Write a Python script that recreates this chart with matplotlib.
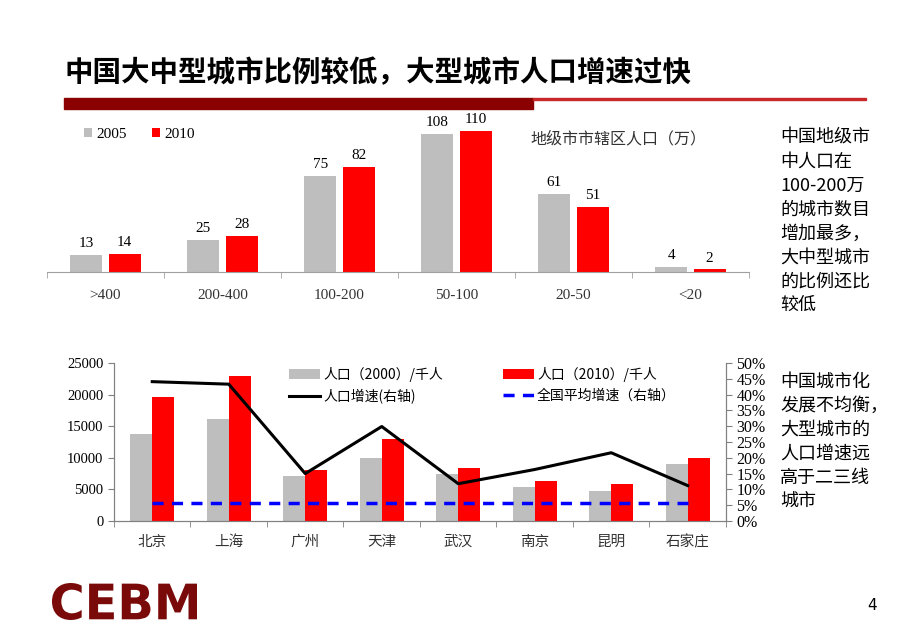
import matplotlib
matplotlib.use("Agg")
import matplotlib.pyplot as plt
from matplotlib.patches import Rectangle, PathPatch
from matplotlib.textpath import TextPath
from matplotlib.font_manager import FontProperties
from matplotlib.transforms import Affine2D, IdentityTransform
import numpy as np

plt.rcParams['font.family'] = ['Liberation Serif', 'Noto Sans CJK SC', 'DejaVu Sans']

# ---------------- data ----------------
size_cats = [">400", "200-400", "100-200", "50-100", "20-50", "<20"]
cities_2005 = [13, 25, 75, 108, 61, 4]
cities_2010 = [14, 28, 82, 110, 51, 2]

city_names = ["北京", "上海", "广州", "天津", "武汉", "南京", "昆明", "石家庄"]
pop_2000 = [13700, 16100, 7100, 10000, 7500, 5450, 4800, 9000]
pop_2010 = [19600, 23000, 8100, 13000, 8400, 6300, 5900, 10000]
growth = [0.441, 0.433, 0.150, 0.299, 0.118, 0.163, 0.216, 0.112]
national_avg = 0.058

title = "中国大中型城市比例较低，大型城市人口增速过快"
note1 = "中国地级市\n中人口在\n100-200万\n的城市数目\n增加最多，\n大中型城市\n的比例还比\n较低"
note2 = "中国城市化\n发展不均衡，\n大型城市的\n人口增速远\n高于二三线\n城市"

W, H = 920, 637
fig = plt.figure(figsize=(W / 100, H / 100), dpi=100)


def rect(x0, y0, x1, y1):
    return [x0 / W, (H - y1) / H, (x1 - x0) / W, (y1 - y0) / H]


GRAY = "#BEBEBE"
RED = "#FF0000"
CJK = ['Noto Sans CJK SC', 'DejaVu Sans']

# ---------------- title & header bar ----------------
fig.text(65 / W, 1 - 73 / H, title, fontsize=20.5, fontweight='bold',
         family=CJK, va='center', ha='left', color='black')
fig.patches.append(Rectangle((64 / W, 1 - 109 / H), (533 - 64) / W, 11 / H,
                             transform=fig.transFigure, color='#8B0000', zorder=2))
fig.patches.append(Rectangle((533 / W, 1 - 100 / H), (866 - 533) / W, 2 / H,
                             transform=fig.transFigure, color='#C8282A', zorder=2))

# ---------------- top chart ----------------
ax1 = fig.add_axes(rect(47, 120, 749, 272))
x = np.arange(len(size_cats))
bw = 0.274
off = 0.163
b1 = ax1.bar(x - off, cities_2005, bw, color=GRAY, label="2005")
b2 = ax1.bar(x + off, cities_2010, bw, color=RED, label="2010")
for xs, vals in ((x - off, cities_2005), (x + off, cities_2010)):
    for xi, v in zip(xs, vals):
        ax1.annotate(str(v), (xi, v), xytext=(0, 3.5), textcoords='offset points',
                     ha='center', va='bottom', fontsize=11)
ax1.set_xlim(-0.5, len(size_cats) - 0.5)
ax1.set_ylim(0, 118.6)
for s in ('top', 'left', 'right'):
    ax1.spines[s].set_visible(False)
ax1.spines['bottom'].set_color('#A0A0A0')
ax1.set_yticks([])
ax1.set_xticks(x)
ax1.set_xticklabels(size_cats, fontsize=11, color='#333333')
ax1.tick_params(axis='x', length=0, pad=12)
ax1.set_xticks(np.arange(-0.5, len(size_cats)), minor=True)
ax1.tick_params(axis='x', which='minor', length=4, color='#A0A0A0')
ax1.legend(handles=[b1, b2], loc='upper left', bbox_to_anchor=(70 / W, 1 - 114 / H),
           bbox_transform=fig.transFigure, ncol=2, frameon=False, fontsize=11,
           handlelength=0.55, handleheight=0.55, handletextpad=0.3, columnspacing=1.6)
fig.text(530 / W, 1 - 139 / H, "地级市市辖区人口（万）", fontsize=11.5, family=CJK,
         color='#333333', va='center', ha='left')

# ---------------- bottom chart ----------------
ax2 = fig.add_axes(rect(114, 363, 726, 521))
xc = np.arange(len(city_names))
bw2 = 0.287
off2 = 0.144
g1 = ax2.bar(xc - off2, pop_2000, bw2, color=GRAY, label="人口（2000）/千人")
g2 = ax2.bar(xc + off2, pop_2010, bw2, color=RED, label="人口（2010）/千人")
ax2.set_xlim(-0.5, len(city_names) - 0.5)
ax2.set_ylim(0, 25000)
ax2.set_yticks(np.arange(0, 25001, 5000))
ax2.tick_params(axis='y', labelsize=10.5, length=4, color='#808080', direction='out')
ax2.set_xticks(xc)
ax2.set_xticklabels(city_names, fontsize=10.5, family=CJK, color='#333333')
ax2.tick_params(axis='x', length=0, pad=10)
ax2.set_xticks(np.arange(-0.5, len(city_names)), minor=True)
ax2.tick_params(axis='x', which='minor', length=4, color='#808080')
ax2.spines['top'].set_visible(False)
for s in ('left', 'bottom', 'right'):
    ax2.spines[s].set_color('#808080')

ax3 = ax2.twinx()
l1, = ax3.plot(xc, growth, color='black', lw=2.2, label="人口增速(右轴)")
l2, = ax3.plot(xc, [national_avg] * len(xc), color='#0000FF', lw=2.5,
               dashes=(3.2, 2.4), label="全国平均增速（右轴）")
ax3.set_ylim(0, 0.5)
ax3.set_yticks(np.arange(0, 0.501, 0.05))
ax3.set_yticklabels([f"{int(round(v * 100))}%" for v in np.arange(0, 0.501, 0.05)])
ax3.tick_params(axis='y', labelsize=11.5, length=4, color='#808080')
ax3.spines['top'].set_visible(False)
for s in ('left', 'bottom', 'right'):
    ax3.spines[s].set_color('#808080')

ax3.legend(handles=[g1, l1, g2, l2], loc='upper left', ncol=2,
           bbox_to_anchor=(277 / W, 1 - 354 / H), bbox_transform=fig.transFigure,
           frameon=False, prop={'family': CJK, 'size': 10}, handlelength=2.2,
           handleheight=0.75, handletextpad=0.25, columnspacing=4.3, labelspacing=0.55)

# ---------------- side notes ----------------
fig.text(780 / W, 1 - 129 / H, note1, fontsize=13, family=CJK, va='top', ha='left',
         linespacing=1.42)
fig.text(780 / W, 1 - 373 / H, note2, fontsize=13, family=CJK, va='top', ha='left',
         linespacing=1.42)

# ---------------- footer ----------------
tp = TextPath((0, 0), "CEBM", size=1, prop=FontProperties(family='DejaVu Sans', weight='bold'))
ext = tp.get_extents()
lx0, lx1, ly0, ly1 = 52, 197, 583, 620
sx = (lx1 - lx0) / ext.width
sy = (ly1 - ly0) / ext.height
tr = Affine2D().translate(-ext.x0, -ext.y0).scale(sx, sy).translate(lx0, H - ly1)
logo = PathPatch(tr.transform_path(tp), facecolor='#7A0A0A', edgecolor='none',
                 transform=IdentityTransform())
fig.patches.append(logo)
fig.text(872 / W, 1 - 606 / H, "4", fontsize=11, family=['DejaVu Sans'],
         va='center', ha='center')

fig.savefig("out.png", dpi=100)
